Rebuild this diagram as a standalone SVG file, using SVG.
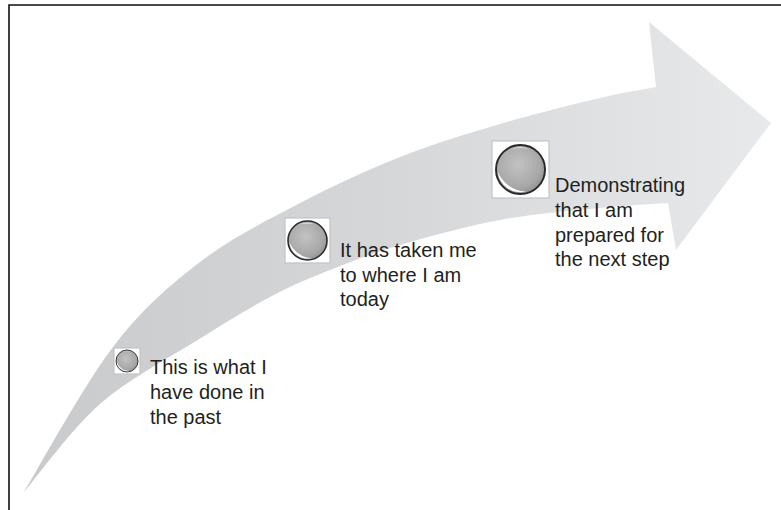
<svg xmlns="http://www.w3.org/2000/svg" width="781" height="510" viewBox="0 0 781 510">
  <style>
    .lbl { font-family: "Liberation Sans", Arial, sans-serif; font-size: 20px; fill: #231f20; }
    .box { fill: #ffffff; stroke: #c4c4c4; stroke-width: 1.2; }
    .frame { stroke: #111111; stroke-width: 1.6; fill: none; }
  </style>
  <defs>
    <linearGradient id="arrowFill" gradientUnits="userSpaceOnUse" x1="24" y1="0" x2="771" y2="0">
      <stop offset="0" stop-color="#c9cacb"/>
      <stop offset="0.5" stop-color="#d6d7d8"/>
      <stop offset="1" stop-color="#e8e9ea"/>
    </linearGradient>
    <radialGradient id="sphereFill" cx="0.45" cy="0.4" r="0.65">
      <stop offset="0" stop-color="#c2c2c2"/>
      <stop offset="0.7" stop-color="#a8a8a8"/>
      <stop offset="1" stop-color="#8e8e8e"/>
    </radialGradient>
    <g id="sphere">
      <circle cx="0" cy="0" r="10" fill="url(#sphereFill)" stroke="#2a2a2a" stroke-width="0.8"/>
      <path d="M-9.3,0.8 A9.3,9.3 0 0 0 2.2,9 A13,13 0 0 1 -9.3,0.8 Z" fill="#ffffff"/>
      <path d="M-4,-8.2 A9,9 0 0 1 3.5,-8.3 A14,14 0 0 0 -4,-8.2 Z" fill="#f2f2f2"/>
    </g>
  </defs>

  <!-- frame -->
  <path class="frame" d="M9,510 L9,5 L781,5"/>

  <!-- connectors: the big curved arrow -->
  <g id="connectors">
    <path id="arrow" fill="url(#arrowFill)" d="M24,492
      C38.8,467.8 83.7,385.3 113,347
      C142.3,308.7 168.8,286 200,262
      C231.2,238 266.7,220.5 300,203
      C333.3,185.5 366.7,170.2 400,157
      C433.3,143.8 466.7,133.8 500,124
      C533.3,114.2 574,104.2 600,98
      C626,91.8 637.3,90.7 656,87
      L649,22 L771,123 L676,250 L668,203
      C645.3,204.7 628,205.2 600,208
      C572,210.8 533.3,213.8 500,220
      C466.7,226.2 428.3,236.7 400,245
      C371.7,253.3 351.7,261.3 330,270
      C308.3,278.7 292.3,285.2 270,297
      C247.7,308.8 224.3,323.2 196,341
      C167.7,358.8 128.7,378.8 100,404
      C71.3,429.2 36.7,477.3 24,492 Z"/>
  </g>

  <g id="node1">
    <rect class="box" x="114" y="348" width="26" height="26"/>
    <use href="#sphere" transform="translate(127,361) scale(1.1)"/>
    <text class="lbl" x="150" y="374">This is what I</text>
    <text class="lbl" x="150" y="399">have done in</text>
    <text class="lbl" x="150" y="424">the past</text>
  </g>

  <g id="node2">
    <rect class="box" x="285" y="218" width="45" height="45"/>
    <use href="#sphere" transform="translate(307.5,240.5) scale(1.95)"/>
    <text class="lbl" x="340" y="257">It has taken me</text>
    <text class="lbl" x="340" y="282">to where I am</text>
    <text class="lbl" x="340" y="306">today</text>
  </g>

  <g id="node3">
    <rect class="box" x="492" y="141" width="57" height="57"/>
    <use href="#sphere" transform="translate(520.5,169.5) scale(2.45)"/>
    <text class="lbl" x="555" y="192">Demonstrating</text>
    <text class="lbl" x="555" y="217">that I am</text>
    <text class="lbl" x="555" y="242">prepared for</text>
    <text class="lbl" x="555" y="266">the next step</text>
  </g>
</svg>
